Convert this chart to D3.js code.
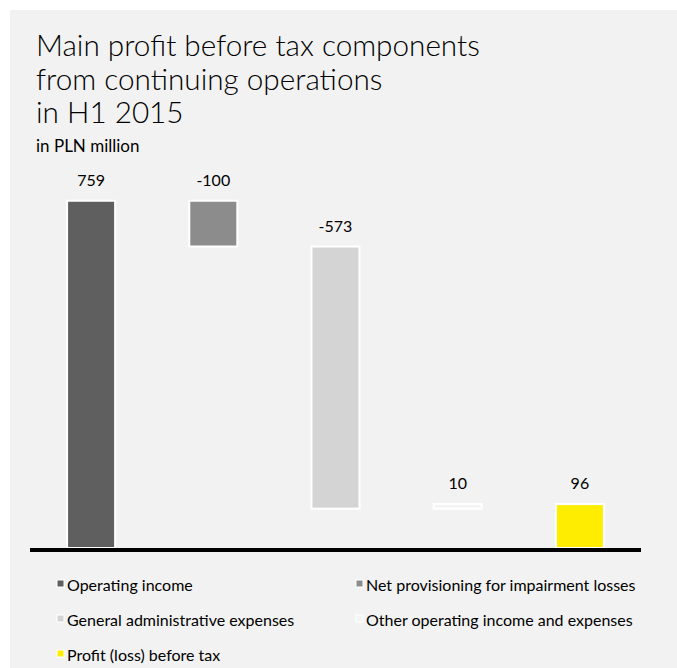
<!DOCTYPE html>
<html>
<head>
<meta charset="utf-8">
<script src="https://cdn.jsdelivr.net/npm/d3@7"></script>
<style>
  html, body { margin: 0; padding: 0; background: #ffffff; }
  svg { display: block; font-family: "Lato", "Noto Sans", sans-serif; }
</style>
</head>
<body>
<svg id="chart" width="677" height="668"></svg>
<script>
// Waterfall components, PLN million
const categories = [
  "Operating income",
  "Net provisioning for impairment losses",
  "General administrative expenses",
  "Other operating income and expenses",
  "Profit (loss) before tax"
];
const values = [759, -100, -573, 10, 96];
const isTotal = [true, false, false, false, true];
const colors = ["#5f5f5f", "#8c8c8c", "#d4d4d4", "#f4f4f4", "#ffed00"];
const titleLines = ["Main profit before tax components", "from continuing operations", "in H1 2015"];
const subtitle = "in PLN million";

// Build running start/end for each step
let running = 0;
const steps = categories.map((c, i) => {
  let start, end;
  if (isTotal[i]) { start = 0; end = values[i]; running = values[i]; }
  else { start = running; end = running + values[i]; running = end; }
  return { cat: c, value: values[i], start, end, color: colors[i] };
});

const svg = d3.select("#chart");
const W = 677, H = 668;

// Panel background
svg.append("rect").attr("x", 10).attr("y", 10).attr("width", W - 10).attr("height", H - 10)
  .attr("fill", "#f2f2f2");

// Title
const title = svg.append("text").attr("x", 36).attr("y", 56)
  .attr("font-size", 29.7).attr("font-weight", 300).attr("fill", "#000");
titleLines.forEach((t, i) => {
  title.append("tspan").attr("x", 36).attr("y", 56 + i * 33.5).text(t);
});
svg.append("text").attr("x", 36).attr("y", 152).attr("font-size", 17)
  .attr("fill", "#000").text(subtitle);

// Scales
const x = d3.scaleBand().domain(categories).range([30, 641]).paddingInner(0.607).paddingOuter(0.3035);
const y = d3.scaleLinear().domain([0, 800]).range([548, 182]);

// Bars
svg.selectAll("rect.bar").data(steps).join("rect")
  .attr("class", "bar")
  .attr("x", d => x(d.cat))
  .attr("width", x.bandwidth())
  .attr("y", d => y(Math.max(d.start, d.end)))
  .attr("height", d => Math.abs(y(d.start) - y(d.end)))
  .attr("fill", d => d.color)
  .attr("stroke", "#ffffff")
  .attr("stroke-width", 2);

// Value labels
svg.selectAll("text.val").data(steps).join("text")
  .attr("class", "val")
  .attr("x", d => x(d.cat) + x.bandwidth() / 2)
  .attr("y", d => y(Math.max(d.start, d.end)) - 15)
  .attr("text-anchor", "middle")
  .attr("font-size", 16)
  .attr("fill", "#000")
  .text(d => d.value);

// Baseline axis
svg.append("line").attr("x1", 30).attr("x2", 641).attr("y1", y(0) + 2).attr("y2", y(0) + 2)
  .attr("stroke", "#000").attr("stroke-width", 4);

// Legend
const legendPos = [[57, 585], [356, 585], [57, 620], [356, 620], [57, 655]];
const lg = svg.selectAll("g.leg").data(steps).join("g")
  .attr("class", "leg")
  .attr("transform", (d, i) => `translate(${legendPos[i][0]},${legendPos[i][1]})`);
lg.append("rect").attr("x", 0).attr("y", -5).attr("width", 7).attr("height", 7)
  .attr("fill", d => d.color).attr("stroke", "#ffffff").attr("stroke-width", 1);
lg.append("text").attr("x", 10).attr("y", 0).attr("dy", "0.35em")
  .attr("font-size", 16).attr("fill", "#000").text(d => d.cat);
</script>
</body>
</html>
